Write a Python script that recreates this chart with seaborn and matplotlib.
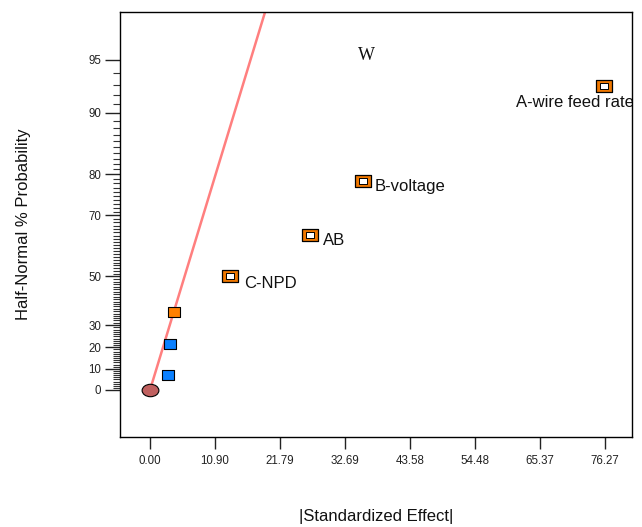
import numpy as np
import pandas as pd
import matplotlib
matplotlib.use("Agg")
import matplotlib.pyplot as plt
from matplotlib.markers import MarkerStyle
from matplotlib.transforms import Affine2D
from matplotlib.ticker import FixedLocator, NullFormatter
import seaborn as sns
from statistics import NormalDist

# ---------------- data ----------------
effect_names = ["origin", "e1", "e2", "e3", "C-NPD", "AB", "B-voltage", "A-wire feed rate"]
effect_size = [0.0, 3.1, 3.4, 4.0, 13.4, 26.8, 35.7, 76.1]
half_normal_prob = [0.0, 7.14, 21.43, 35.71, 50.0, 64.29, 78.57, 92.86]
point_kind = ["origin", "small", "small", "minor", "selected", "selected", "selected", "selected"]

line_effect = [0.0, 22.15]
line_prob = [0.0, 99.0]

x_ticks = [0.00, 10.90, 21.79, 32.69, 43.58, 54.48, 65.37, 76.27]
y_major = [0, 10, 20, 30, 50, 70, 80, 90, 95]
y_minor = [v for v in range(1, 95) if v not in y_major]

df = pd.DataFrame({"effect": effect_size, "prob": half_normal_prob,
                   "kind": point_kind, "name": effect_names})
line_df = pd.DataFrame({"effect": line_effect, "prob": line_prob})

# ---------------- style ----------------
sns.set_style("white")
plt.rcParams["font.family"] = ["Liberation Sans", "DejaVu Sans"]

nd = NormalDist()
_icdf = np.vectorize(nd.inv_cdf, otypes=[float])
_cdf = np.vectorize(nd.cdf, otypes=[float])

def fwd(p):
    p = np.asarray(p, dtype=float)
    q = np.clip((1.0 + p / 100.0) / 2.0, 1e-9, 1 - 1e-9)
    return _icdf(q)

def inv(z):
    z = np.asarray(z, dtype=float)
    return (2.0 * _cdf(z) - 1.0) * 100.0

fig = plt.figure(figsize=(6.42, 5.27), dpi=100)
ax = fig.add_axes([120 / 642, 1 - 437 / 527, 512 / 642, 425 / 527])
ax.set_yscale("function", functions=(fwd, inv))

stretch = Affine2D().scale(1.18, 1.0)
sq = MarkerStyle("s", transform=stretch)
circ = MarkerStyle("o", transform=Affine2D().scale(1.35, 1.0))

sns.lineplot(data=line_df, x="effect", y="prob", ax=ax, color="#ff7f7f",
             linewidth=1.8, zorder=2)

sub = df[df.kind == "origin"]
sns.scatterplot(data=sub, x="effect", y="prob", ax=ax, marker=circ, s=80,
                color="#c0605f", edgecolor="black", linewidth=0.8, zorder=4)
sub = df[df.kind == "small"]
sns.scatterplot(data=sub, x="effect", y="prob", ax=ax, marker=sq, s=52,
                color="#0a80ff", edgecolor="black", linewidth=0.8, zorder=4)
sub = df[df.kind == "minor"]
sns.scatterplot(data=sub, x="effect", y="prob", ax=ax, marker=sq, s=60,
                color="#ff8000", edgecolor="black", linewidth=0.8, zorder=4)
sub = df[df.kind == "selected"]
sns.scatterplot(data=sub, x="effect", y="prob", ax=ax, marker=sq, s=85,
                color="#f07800", edgecolor="black", linewidth=0.9, zorder=4)
sns.scatterplot(data=sub, x="effect", y="prob", ax=ax, marker=sq, s=22,
                color="white", edgecolor="black", linewidth=0.7, zorder=5)

# labels for selected effects
offsets = {"C-NPD": (14, -7, "left", "center"),
           "AB": (13, -6, "left", "center"),
           "B-voltage": (12, -6, "left", "center"),
           "A-wire feed rate": (-29, -9, "center", "top")}
for _, r in sub.iterrows():
    dx, dy, ha, va = offsets[r["name"]]
    ax.annotate(r["name"], (r["effect"], r["prob"]), xytext=(dx, dy),
                textcoords="offset pixels", ha=ha, va=va, fontsize=12,
                color="#111111", annotation_clip=False, clip_on=True)

fig.text(366 / 642, 1 - 56 / 527, "W", family=["Liberation Serif", "DejaVu Serif"],
         fontsize=13, ha="center", va="center", color="#111111")

ax.set_xlim(-5.03, 80.8)
ax.set_ylim(inv(-0.279), inv(2.243))

ax.set_xticks(x_ticks)
ax.set_xticklabels([f"{v:.2f}" for v in x_ticks])
ax.yaxis.set_major_locator(FixedLocator(y_major))
ax.yaxis.set_minor_locator(FixedLocator(y_minor))
ax.set_yticklabels([str(v) for v in y_major])
ax.yaxis.set_minor_formatter(NullFormatter())

ax.tick_params(axis="x", which="major", direction="out", length=8.6, width=1.0,
               pad=4, labelsize=8.3, colors="#222222", bottom=True)
ax.tick_params(axis="y", which="major", direction="out", length=10.5, width=1.0,
               pad=3, labelsize=8.3, colors="#222222", left=True)
ax.tick_params(axis="y", which="minor", direction="out", length=5, width=0.8,
               color="#333333", left=True)

for s in ax.spines.values():
    s.set_visible(True)
    s.set_color("black")
    s.set_linewidth(1.0)

ax.set_xlabel("|Standardized Effect|", fontsize=12, color="#111111")
ax.set_ylabel("Half-Normal % Probability", fontsize=12, color="#111111")
ax.xaxis.set_label_coords(0.5, (437 - 509) / 425)
ax.yaxis.set_label_coords((31 - 120) / 512, 0.5)

fig.savefig("out.png", dpi=100)
